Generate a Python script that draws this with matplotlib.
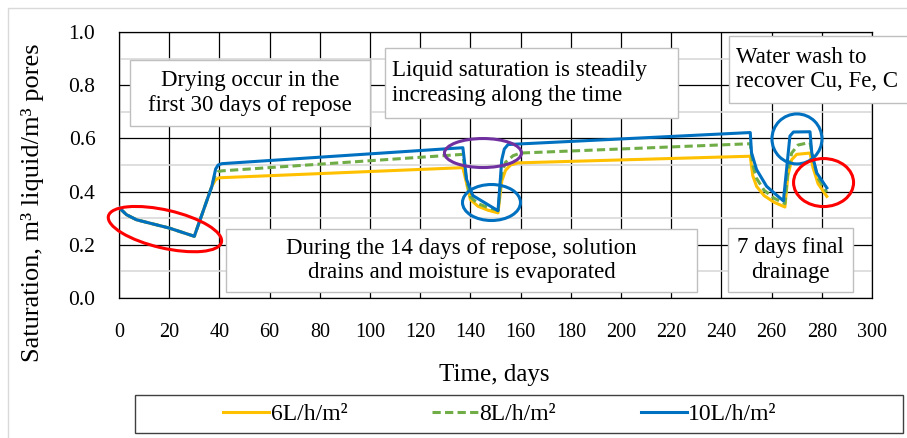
import numpy as np
import matplotlib
matplotlib.use("Agg")
import matplotlib.pyplot as plt
from matplotlib.patches import Ellipse, Rectangle
from matplotlib.transforms import Affine2D, ScaledTranslation

# ---- data ----
t_6 = [0, 3, 7, 20, 30, 37, 38.5, 40, 137, 138.5, 140, 143, 147, 151, 152.5, 154, 156, 159,
       251.5, 252.5, 254, 257, 261, 265.3, 266.5, 268, 270, 275.3, 276.5, 278.5, 282]
s_6 = [0.34, 0.313, 0.294, 0.263, 0.232, 0.42, 0.445, 0.452, 0.49, 0.43, 0.37, 0.345, 0.33, 0.32, 0.44, 0.48, 0.50, 0.508,
       0.533, 0.46, 0.42, 0.385, 0.36, 0.342, 0.46, 0.52, 0.54, 0.545, 0.49, 0.43, 0.382]

t_8 = [0, 3, 7, 20, 30, 37, 38, 39.5, 41, 137, 138.5, 140, 143, 147, 151, 152.5, 154, 157, 160,
       251.5, 252.5, 254, 257, 261, 265.3, 266.5, 268, 270.5, 275.3, 276.5, 278.5, 282]
s_8 = [0.34, 0.313, 0.294, 0.263, 0.232, 0.42, 0.455, 0.475, 0.478, 0.54, 0.44, 0.38, 0.355, 0.34, 0.33, 0.47, 0.51, 0.535, 0.545,
       0.58, 0.50, 0.45, 0.405, 0.375, 0.355, 0.48, 0.545, 0.575, 0.585, 0.52, 0.45, 0.398]

t_10 = [0, 3, 7, 20, 30, 37, 38.5, 39.5, 41, 137, 138.5, 141, 151, 152.5, 153.5, 155,
        251.5, 252, 254, 258, 261, 264.7, 267.3, 268.7, 275.3, 276, 278, 282]
s_10 = [0.34, 0.313, 0.294, 0.263, 0.232, 0.42, 0.485, 0.50, 0.505, 0.565, 0.445, 0.385, 0.328, 0.52, 0.56, 0.577,
        0.622, 0.546, 0.483, 0.42, 0.395, 0.365, 0.609, 0.624, 0.625, 0.546, 0.47, 0.414]

labels = ["6L/h/m²", "8L/h/m²", "10L/h/m²"]
colors = ["#FFC000", "#70AD47", "#0070C0"]

x_ticks = list(range(0, 301, 20))
y_ticks = [0.0, 0.2, 0.4, 0.6, 0.8, 1.0]

notes = [
    ("Drying occur in the\nfirst 30 days of repose", (130, 60, 240, 66), "center"),
    ("Liquid saturation is steadily\nincreasing along the time", (385, 48, 293, 70), "left"),
    ("Water wash to\nrecover Cu, Fe, C", (729, 36, 200, 67), "left"),
    ("During the 14 days of repose, solution\ndrains and moisture is evaporated", (226, 229, 471, 63), "center"),
    ("7 days final\ndrainage", (728, 228, 125, 64), "center"),
]

# (center time, center saturation, width px, height px, angle, colour)
rings = [
    (18.3, 0.259, 116, 38, -13, "#FF0000"),
    (145.0, 0.545, 77, 29, 0, "#7030A0"),
    (148.4, 0.359, 58, 36, 0, "#0070C0"),
    (270.1, 0.598, 50, 50, 0, "#0070C0"),
    (280.7, 0.434, 60, 48, 0, "#FF0000"),
]

plt.rcParams['font.family'] = ['Liberation Serif', 'DejaVu Serif']

W, H = 907, 438
fig = plt.figure(figsize=(W / 100, H / 100), dpi=100)
ax = fig.add_axes([119 / W, 1 - 298 / H, 753 / W, 266 / H])

# pixel-space transform (origin top-left) for decorations
px = Affine2D().scale(1 / W, -1 / H).translate(0, 1) + fig.transFigure

fig.patches.append(Rectangle((8, 8), 1200, 1200, transform=px, fill=False,
                             edgecolor="#d9d9d9", lw=1, figure=fig))

ax.plot(t_6, s_6, color=colors[0], lw=2.2, label=labels[0], zorder=3)
ax.plot(t_8, s_8, color=colors[1], lw=2.2, dashes=(2.7, 1.4), label=labels[1], zorder=3)
ax.plot(t_10, s_10, color=colors[2], lw=2.2, label=labels[2], zorder=3)

ax.set_xlim(0, 300)
ax.set_ylim(0, 1.0)
ax.set_xticks(x_ticks)
ax.set_yticks(y_ticks)
ax.set_yticklabels([f"{v:.1f}" for v in y_ticks])
ax.set_yticks(np.arange(0.1, 1.0, 0.2), minor=True)
ax.tick_params(which="both", length=0)
ax.tick_params(axis="y", pad=17, labelsize=15.5)
ax.tick_params(axis="x", pad=18, labelsize=14.5)
ax.grid(True, which="major", color="black", lw=0.9)
ax.grid(True, which="minor", axis="y", color="#d9d9d9", lw=1.2)
ax.set_axisbelow(True)
for sp in ax.spines.values():
    sp.set_color("black")
    sp.set_linewidth(0.9)

ax.set_xlabel("Time, days", fontsize=18)
ax.xaxis.set_label_coords(0.498, -0.25)
ax.set_ylabel("Saturation, m³ liquid/m³ pores", fontsize=19)
ax.yaxis.set_label_coords(-0.1, 0.36)

for txt, (x0, y0, w, h), al in notes:
    fig.patches.append(Rectangle((x0, y0), w, h, transform=px, facecolor="white",
                                 edgecolor="#bfbfbf", lw=1, zorder=4, figure=fig))
    if al == "center":
        fig.text(x0 + w / 2, y0 + h / 2, txt, transform=px, ha="center", va="center",
                 multialignment="center", fontsize=16.5, linespacing=1.2, zorder=5)
    else:
        fig.text(x0 + 7, y0 + h / 2, txt, transform=px, ha="left", va="center",
                 multialignment="left", fontsize=16.5, linespacing=1.2, zorder=5)

for tc, sc, w, h, ang, c in rings:
    tr = fig.dpi_scale_trans + ScaledTranslation(tc, sc, ax.transData)
    e = Ellipse((0, 0), w / 100, h / 100, angle=ang, transform=tr, fill=False,
                edgecolor=c, lw=2.2, zorder=6, clip_on=False)
    fig.patches.append(e)

fig.patches.append(Rectangle((135, 395), 768, 38, transform=px, fill=False,
                             edgecolor="#404040", lw=1, figure=fig))
handles, labs = ax.get_legend_handles_labels()
fig.legend(handles, labs, loc="center", bbox_to_anchor=(500 / W, 1 - 414 / H), ncol=3,
           frameon=False, fontsize=17, handlelength=1.95, handletextpad=0.05, columnspacing=3.6)

fig.savefig("out.png", dpi=100)
